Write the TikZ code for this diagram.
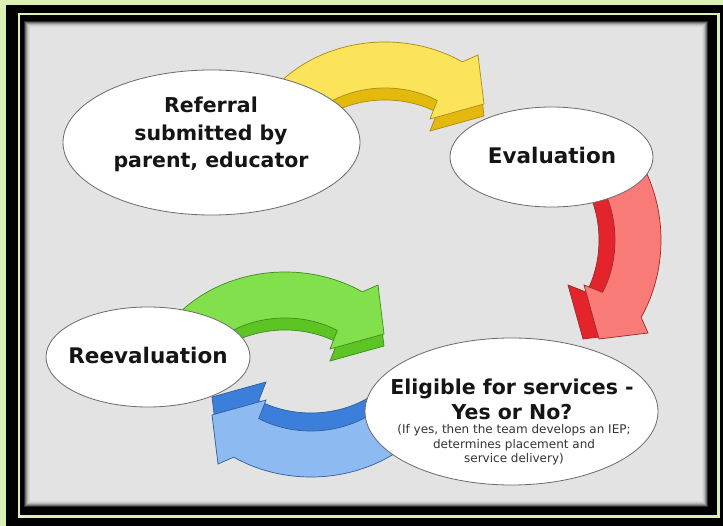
\documentclass[tikz,border=0pt]{standalone}
\usepackage{fontspec}
\setmainfont{DejaVu Sans}
\usetikzlibrary{shapes.geometric}
\definecolor{pagegreen}{HTML}{DCF0B4}
\definecolor{panelgray}{HTML}{E3E3E3}
\definecolor{bubbleline}{HTML}{6A6A6A}
\definecolor{inktext}{HTML}{151515}
\definecolor{notegray}{HTML}{333333}
\definecolor{yellowfront}{HTML}{FBE35A}
\definecolor{yellowside}{HTML}{E2B90C}
\definecolor{yellowline}{HTML}{A88A1C}
\definecolor{redfront}{HTML}{F97B78}
\definecolor{redside}{HTML}{E3242A}
\definecolor{redline}{HTML}{9A2A2A}
\definecolor{greenfront}{HTML}{82E04C}
\definecolor{greenside}{HTML}{5CC423}
\definecolor{greenline}{HTML}{3F8A1E}
\definecolor{bluefront}{HTML}{8DBAF0}
\definecolor{blueside}{HTML}{3C7FDB}
\definecolor{blueline}{HTML}{2F5E98}
\tikzset{
  bubble/.style={ellipse, draw=bubbleline, fill=white, line width=0.8pt, inner sep=0pt},
  steptext/.style={font=\bfseries\fontsize{20.5}{27.5}\selectfont, text=inktext, align=center, inner sep=0pt},
  wordtext/.style={font=\bfseries\fontsize{21.5}{26}\selectfont, text=inktext, inner sep=0pt},
  notetext/.style={font=\fontsize{12}{14.8}\selectfont, text=notegray, align=center, inner sep=0pt}
}
% outline of one curved block arrow, around its own centre
\newcommand{\arrowpath}{(-140:142 and 123) arc[start angle=-140, end angle=-57, x radius=142, y radius=123]
  -- (93,-110) -- (99,-61) -- (45,-46)
  -- (-57:96 and 77) arc[start angle=-57, end angle=-140, x radius=96, y radius=77] -- cycle}
% centre, rotation, depth, front colour, side colour, line colour
\newcommand{\cyclearrow}[6]{%
  \begin{scope}[shift={#1}, rotate=#2]
    \filldraw[fill=#5, draw=#6, line width=0.7pt, shift={(0,#3)}] \arrowpath;
    \filldraw[fill=#4, draw=#6, line width=0.7pt] \arrowpath;
  \end{scope}}
\begin{document}
\begin{tikzpicture}[x=1pt, y=-1pt]
% Frame
\fill[pagegreen] (0,0) rectangle (723,526);
\fill[black] (6,5) rectangle (723,526);
\draw[pagegreen, line width=2.5pt] (19,14) rectangle (718.5,516.5);
\fill[panelgray] (24,21) rectangle (708,507);
% Inner shadow
\foreach \d/\o in {0.5/0.8, 1.5/0.55, 2.5/0.35, 3.5/0.2, 4.5/0.1, 5.5/0.05}
  \draw[black, opacity=\o, line width=1pt] ({24+\d},{21+\d}) rectangle ({708-\d},{507-\d});
\useasboundingbox (0,0) rectangle (723,526);
% Arrows between the steps
\cyclearrow{(385,165)}{0}{12}{yellowfront}{yellowside}{yellowline}
\cyclearrow{(538,240)}{-90}{16}{redfront}{redside}{redline}
\cyclearrow{(311,354)}{180}{18}{bluefront}{blueside}{blueline}
\cyclearrow{(285,395)}{0}{12}{greenfront}{greenside}{greenline}
% Steps
\node[bubble, minimum width=297pt, minimum height=145pt] (referral) at (211.5,142.5) {};
\node[bubble, minimum width=203pt, minimum height=100pt] (evaluation) at (551.5,157) {};
\node[bubble, minimum width=293pt, minimum height=147pt] (eligible) at (511.5,411.5) {};
\node[bubble, minimum width=204pt, minimum height=100pt] (reevaluation) at (148,357) {};
% Labels
\node[steptext, anchor=north] (referraltext) at (211,97) {Referral\\submitted by\\parent, educator};
\node[wordtext] (evaluationtext) at (552,155) {Evaluation};
\node[wordtext] (reevaluationtext) at (148,355) {Reevaluation};
\node[steptext, anchor=base] (eligibletext) at (512,395) {Eligible for services -};
\node[steptext, anchor=base] (yesnotext) at (512,420) {Yes or No?};
\node[notetext, anchor=north] (notetext) at (514,424) {(If yes, then the team develops an IEP;\\determines placement and\\service delivery)};
\end{tikzpicture}
\end{document}
